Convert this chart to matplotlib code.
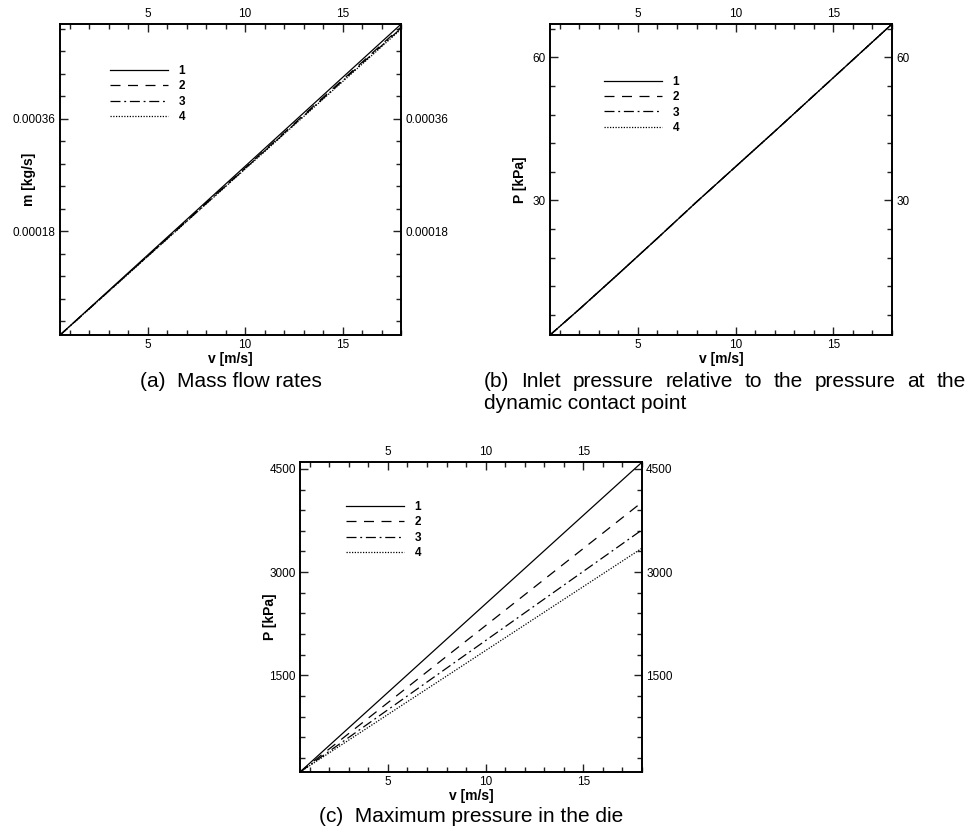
import matplotlib
matplotlib.use("Agg")
import matplotlib.pyplot as plt
from matplotlib.lines import Line2D
from matplotlib.ticker import MultipleLocator, FixedLocator

plt.rcParams['font.family'] = ['Liberation Sans', 'DejaVu Sans']

# velocity samples [m/s]
v = [0.5, 2, 4, 6, 8, 10, 12, 14, 16, 18]
case_labels = ['1', '2', '3', '4']

# (a) mass flow rate [kg/s]
m1 = [1.42e-5, 5.68e-5, 1.136e-4, 1.704e-4, 2.272e-4, 2.840e-4, 3.408e-4, 3.976e-4, 4.544e-4, 5.112e-4]
m2 = [1.41e-5, 5.63e-5, 1.126e-4, 1.689e-4, 2.252e-4, 2.815e-4, 3.377e-4, 3.940e-4, 4.503e-4, 5.066e-4]
m3 = [1.40e-5, 5.61e-5, 1.122e-4, 1.682e-4, 2.243e-4, 2.804e-4, 3.364e-4, 3.925e-4, 4.486e-4, 5.046e-4]
m4 = [1.40e-5, 5.59e-5, 1.118e-4, 1.677e-4, 2.236e-4, 2.795e-4, 3.354e-4, 3.913e-4, 4.472e-4, 5.031e-4]

# (b) inlet pressure relative to dynamic contact point [kPa]
pin1 = [1.8, 7.2, 14.6, 22.1, 29.7, 37.1, 44.5, 52.0, 59.5, 67.0]
pin2 = [1.8, 7.2, 14.6, 22.1, 29.7, 37.1, 44.5, 52.0, 59.5, 67.0]
pin3 = [1.8, 7.2, 14.6, 22.1, 29.7, 37.1, 44.5, 52.0, 59.5, 67.0]
pin4 = [1.8, 7.2, 14.6, 22.1, 29.7, 37.1, 44.5, 52.0, 59.5, 67.0]

# (c) maximum pressure in the die [kPa]
pmax1 = [97, 483, 997, 1511, 2026, 2540, 3054, 3569, 4083, 4597]
pmax2 = [97, 433, 881, 1329, 1777, 2224, 2672, 3120, 3568, 4016]
pmax3 = [97, 399, 801, 1203, 1605, 2007, 2409, 2811, 3212, 3614]
pmax4 = [97, 376, 747, 1119, 1490, 1862, 2233, 2605, 2976, 3348]

W, H = 970, 831
fig = plt.figure(figsize=(W / 100, H / 100), dpi=100)


def rect(x0, y0, x1, y1):
    return [x0 / W, 1 - y1 / H, (x1 - x0) / W, (y1 - y0) / H]


styles = [
    dict(color='black', linestyle='-', linewidth=0.9),
    dict(color='black', linestyle=(0, (8, 6)), linewidth=0.9),
    dict(color='black', linestyle=(0, (8, 3, 1.5, 3)), linewidth=0.9),
    dict(color='black', linestyle=(0, (1, 1.2)), linewidth=0.9),
]


def setup(ax, ylim, ymajor, yminor, ylabel, yfmt, leg_anchor, ylab_x):
    ax.set_xlim(0.5, 18)
    ax.set_ylim(*ylim)
    ax.xaxis.set_major_locator(FixedLocator([5, 10, 15]))
    ax.xaxis.set_minor_locator(MultipleLocator(1))
    ax.yaxis.set_major_locator(FixedLocator(ymajor))
    ax.yaxis.set_minor_locator(MultipleLocator(yminor))
    ax.yaxis.set_major_formatter(yfmt)
    ax.tick_params(which='both', direction='in', top=True, right=True,
                   labeltop=True, labelright=True, labelsize=8.5, pad=3,
                   width=1.0, color='#222222')
    ax.tick_params(which='major', length=6)
    ax.tick_params(which='minor', length=3.8)
    for s in ax.spines.values():
        s.set_linewidth(1.4)
    ax.set_xlabel('v [m/s]', fontsize=10, fontweight='bold', labelpad=0.3)
    ax.set_ylabel(ylabel, fontsize=10, fontweight='bold')
    ax.yaxis.set_label_coords(ylab_x, 0.5)
    ax.yaxis.label.set_va('center')
    handles = [Line2D([], [], **st) for st in styles]
    leg = ax.legend(handles, case_labels, loc='upper left', bbox_to_anchor=leg_anchor,
                    frameon=False, handlelength=4.9, handletextpad=0.9,
                    labelspacing=0.28, borderpad=0, borderaxespad=0,
                    prop=dict(size=8.5, weight='bold'))
    return leg


# (a)
ax_a = fig.add_axes(rect(60, 24, 401, 335))
for y, st in zip([m1, m2, m3, m4], styles):
    ax_a.plot(v, y, **st)
setup(ax_a, (1.42e-5, 5.115e-4), [0.00018, 0.00036], 0.000036, 'm [kg/s]',
      lambda val, pos: f'{val:.5f}', (0.147, 0.868), -0.091)

# (b)
ax_b = fig.add_axes(rect(550, 24, 892, 335))
for y, st in zip([pin1, pin2, pin3, pin4], styles):
    ax_b.plot(v, y, **st)
setup(ax_b, (1.8, 67.0), [30, 60], 6, 'P [kPa]',
      lambda val, pos: f'{val:.0f}', (0.158, 0.833), -0.088)

# (c)
ax_c = fig.add_axes(rect(300, 462, 642, 772))
for y, st in zip([pmax1, pmax2, pmax3, pmax4], styles):
    ax_c.plot(v, y, **st)
setup(ax_c, (97, 4600), [1500, 3000, 4500], 300, 'P [kPa]',
      lambda val, pos: f'{val:.0f}', (0.135, 0.874), -0.088)

cap_size = 15
fig.text(231 / W, 1 - 381 / H, '(a)  Mass flow rates', ha='center', va='center',
         fontsize=cap_size)
fig.text(471 / W, 1 - 816 / H, '(c)  Maximum pressure in the die', ha='center',
         va='center', fontsize=cap_size)

# justified first line of caption (b)
words = ['(b)', 'Inlet', 'pressure', 'relative', 'to', 'the', 'pressure', 'at', 'the']
x_left, x_right = 484, 966
fig.canvas.draw()
renderer = fig.canvas.get_renderer()
texts = [fig.text(0, 1 - 381 / H, w, ha='left', va='center', fontsize=cap_size) for w in words]
widths = [t.get_window_extent(renderer).width for t in texts]
gap = (x_right - x_left - sum(widths)) / (len(words) - 1)
x = x_left
for t, wd in zip(texts, widths):
    t.set_x(x / W)
    x += wd + gap
fig.text(x_left / W, 1 - 403 / H, 'dynamic contact point', ha='left', va='center',
         fontsize=cap_size)

fig.savefig('out.png', dpi=100)
